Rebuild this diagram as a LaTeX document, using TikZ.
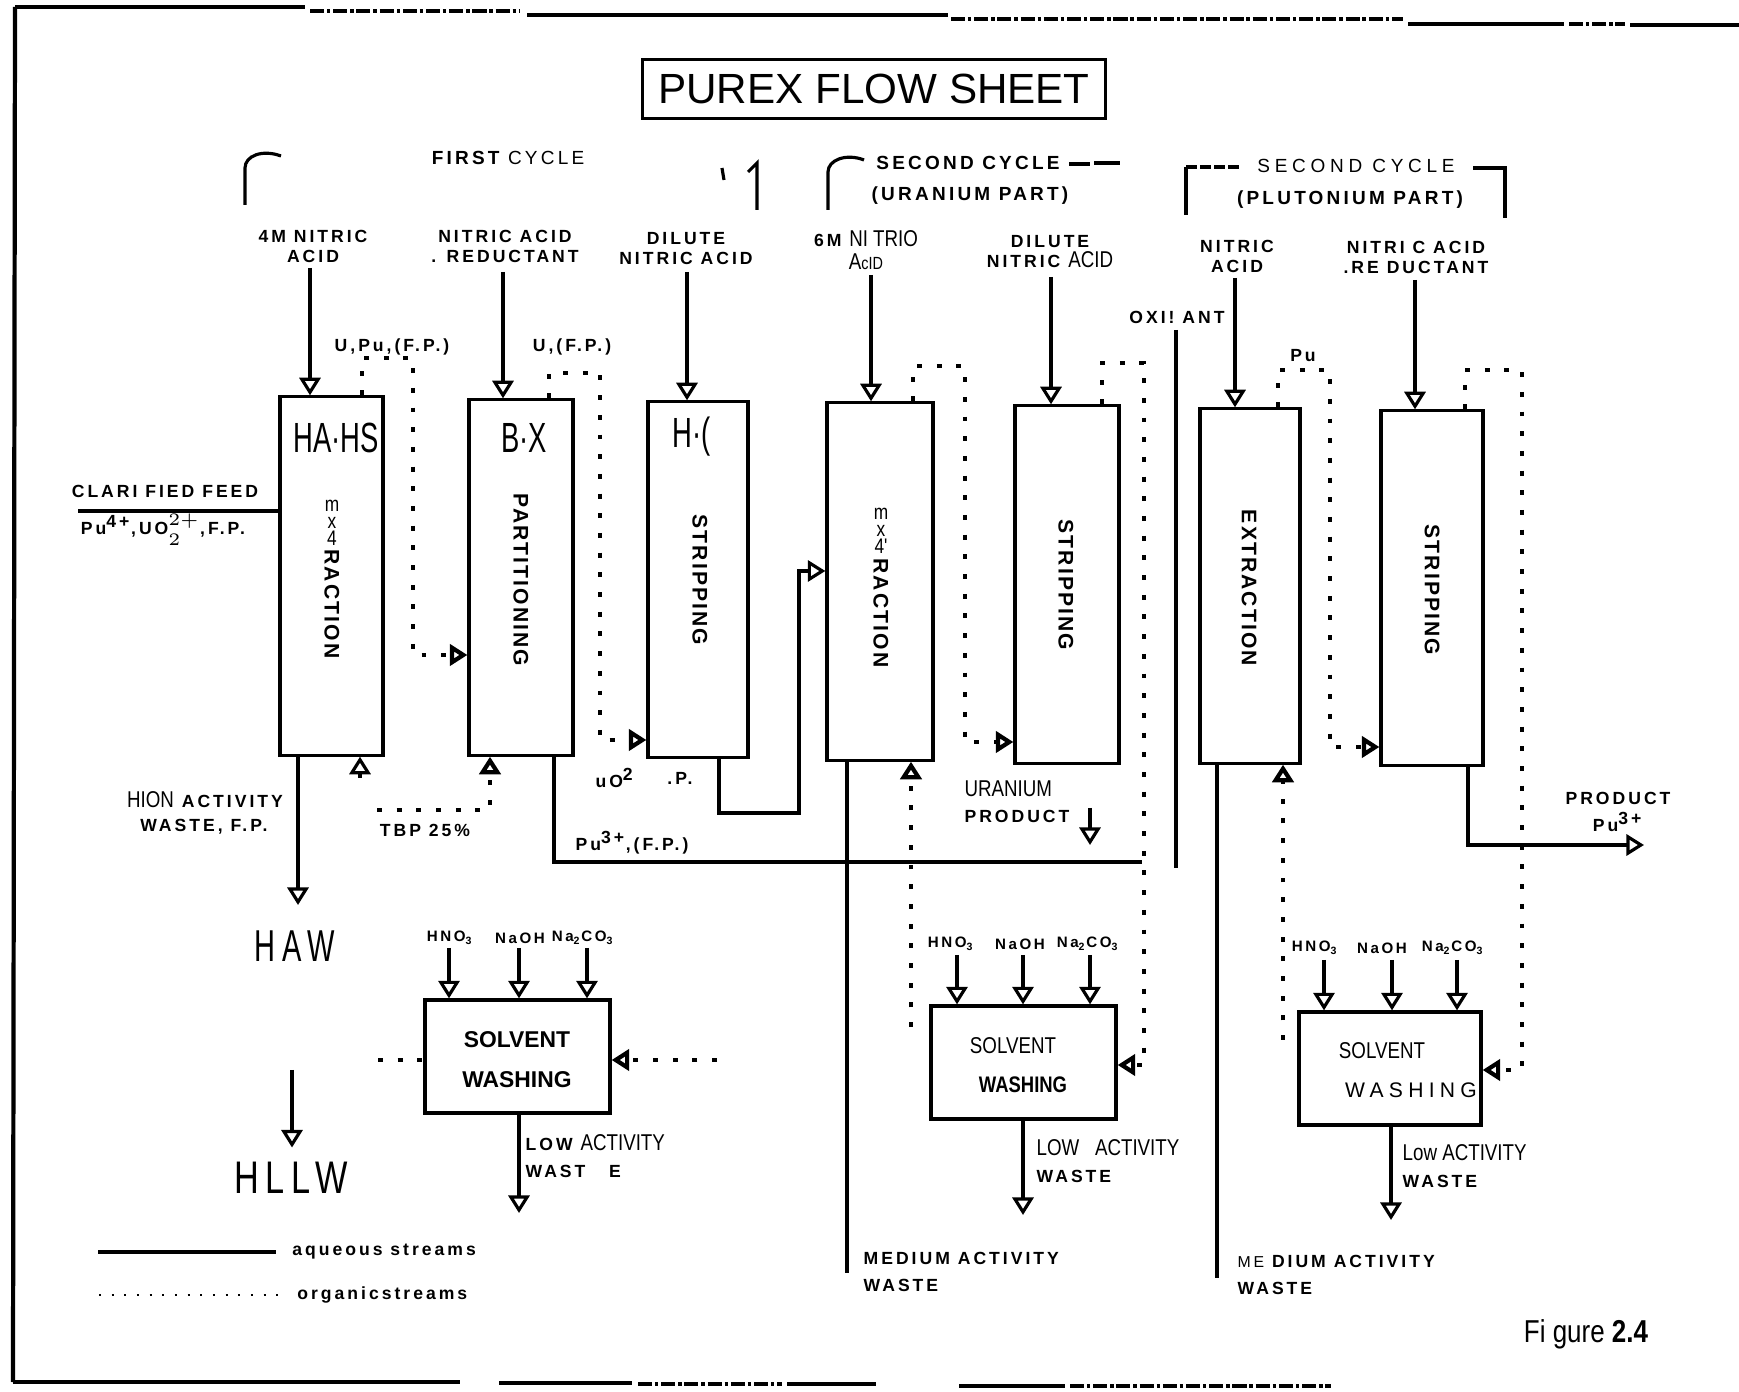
\documentclass[tikz,border=0pt]{standalone}
\usepackage{fontspec}
\setmainfont{Liberation Sans}
\newfontfamily\lblfont[LetterSpace=17]{Liberation Sans}
\newfontfamily\vfont[LetterSpace=10]{Liberation Sans}
\newfontfamily\widefont[LetterSpace=25]{Liberation Sans}
\newfontfamily\condfont[FakeStretch=0.82]{Liberation Sans}
\newfontfamily\tagfont[FakeStretch=0.65]{Liberation Sans}
\newfontfamily\hawfont[FakeStretch=0.65,LetterSpace=15]{Liberation Sans}
\newfontfamily\hllwfont[FakeStretch=0.75,LetterSpace=15]{Liberation Sans}
\usetikzlibrary{arrows.meta, calc}

\begin{document}
\begin{tikzpicture}[x=0.01cm, y=-0.01cm, >={Triangle[open,length=5pt,width=6pt]},
      aq/.style={line width=0.9pt},
      org/.style={line width=1.2pt, dash pattern=on 1.4pt off 4.2pt},
      rim/.style={line width=1.2pt},
      scan/.style={line width=0.9pt, dash pattern=on 4pt off 0.8pt on 1pt off 0.8pt},
      col/.style={draw, line width=0.9pt, inner sep=0pt},
      wash/.style={draw, line width=0.9pt, inner sep=0pt, minimum height=1.13cm},
      lbl/.style={font=\lblfont\bfseries\fontsize{5}{5.7}\selectfont, inner sep=0pt, align=center},
      hdr/.style={font=\lblfont\bfseries\fontsize{5.4}{6}\selectfont, inner sep=0pt},
      vlbl/.style={font=\vfont\bfseries\fontsize{6}{7}\selectfont, inner sep=0pt, rotate=-90},
      reg/.style={font=\condfont\fontsize{6.5}{7.5}\selectfont, inner sep=0pt},
      tag/.style={font=\tagfont\fontsize{12}{14}\selectfont, inner sep=0pt},
      mx/.style={font=\condfont\fontsize{6}{4.9}\selectfont, inner sep=0pt, align=center},
      chem/.style={font=\lblfont\bfseries\fontsize{4.3}{5}\selectfont, inner sep=0pt},
      waste/.style={font=\lblfont\bfseries\fontsize{5}{7.8}\selectfont, inner sep=0pt, align=left, anchor=west}]

    \useasboundingbox (0,0) rectangle (1739,1392);

    % scanned page rim
    \draw[rim] (15,7) -- (305,7);
    \draw[scan] (310,11) -- (520,11);
    \draw[rim] (527,15) -- (948,15);
    \draw[scan] (951,19) -- (1403,19);
    \draw[rim] (1408,24) -- (1564,24);
    \draw[scan] (1569,24) -- (1625,24);
    \draw[rim] (1630,25) -- (1739,25);
    \draw[rim] (15,7) -- (13,1382);
    \draw[rim] (13,1382) -- (460,1382);
    \draw[rim] (499,1383) -- (632,1383);
    \draw[scan] (638,1384) -- (782,1384);
    \draw[rim] (787,1384) -- (876,1384);
    \draw[rim] (959,1386) -- (1065,1386);
    \draw[scan] (1070,1386) -- (1331,1386);

    % title
    \node[draw, line width=0.8pt, minimum width=4.63cm, minimum height=0.59cm, inner sep=0pt,
          font=\fontsize{12}{14}\selectfont] (title) at (874,89) {PUREX FLOW SHEET};

    % cycle headings
    \node[hdr] (cyc1) at (508,158) {FIRST {\mdseries CYCLE}};
    \draw[aq] (245,205) -- (245,168) .. controls (245,156) and (262,149) .. (281,156);
    \draw[aq] (722,168) -- (724,180);
    \draw[aq] (757,210) -- (757,163) -- (748,172);
    \node[hdr] (cyc2) at (968,163) {SECOND CYCLE};
    \node[hdr] (cyc2b) at (970,196) {(URANIUM PART)};
    \draw[aq] (828,210) -- (828,172) .. controls (828,160) and (846,153) .. (864,160);
    \draw[aq] (1069,164) -- (1090,164);
    \draw[aq] (1094,163) -- (1120,163);
    \node[font=\widefont\fontsize{5.4}{6}\selectfont, inner sep=0pt] (cyc3) at (1356,166) {SECOND CYCLE};
    \node[hdr] (cyc3b) at (1350,200) {(PLUTONIUM PART)};
    \draw[aq] (1186,215) -- (1186,167);
    \draw[aq, dash pattern=on 3pt off 1pt] (1186,167) -- (1242,167);
    \draw[aq] (1473,168) -- (1505,168) -- (1505,218);

    % columns
    \node[col, minimum width=1.03cm, minimum height=3.58cm] (c1) at (331.5,576) {};
    \node[col, minimum width=1.04cm, minimum height=3.55cm] (c2) at (521,577.5) {};
    \node[col, minimum width=1.00cm, minimum height=3.55cm] (c3) at (698,579.5) {};
    \node[col, minimum width=1.06cm, minimum height=3.57cm] (c4) at (880,581.5) {};
    \node[col, minimum width=1.04cm, minimum height=3.57cm] (c5) at (1067,584.5) {};
    \node[col, minimum width=1.00cm, minimum height=3.54cm] (c6) at (1250,586) {};
    \node[col, minimum width=1.02cm, minimum height=3.54cm] (c7) at (1432,588) {};

    \node[tag] (c1t) at (336,438) {HA·HS};
    \node[tag] (c2t) at (524,438) {B·X};
    \node[tag] (c3t) at (692,437) {H·(};
    \node[mx] (c1m) at (332,523) {m\\x\\4};
    \node[vlbl] (c1v) at (332,604) {RACTION};
    \node[vlbl] (c2v) at (521,580) {PARTITIONING};
    \node[vlbl] (c3v) at (700,580) {STRIPPING};
    \node[mx] (c4m) at (881,531) {m\\x\\4'};
    \node[vlbl] (c4v) at (881,613) {RACTION};
    \node[vlbl] (c5v) at (1066,585) {STRIPPING};
    \node[vlbl] (c6v) at (1249,588) {EXTRACTION};
    \node[vlbl] (c7v) at (1432,590) {STRIPPING};

    % solvent washing boxes
    \node[wash, minimum width=1.85cm] (w1) at (517.5,1056.5) {};
    \node[wash, minimum width=1.85cm] (w2) at (1023.5,1062.5) {};
    \node[wash, minimum width=1.82cm] (w3) at (1390,1068.5) {};
    \node[font=\bfseries\fontsize{6.5}{7}\selectfont, inner sep=0pt] (w1a) at (517,1040) {SOLVENT};
    \node[font=\bfseries\fontsize{6.5}{7}\selectfont, inner sep=0pt] (w1b) at (517,1080) {WASHING};
    \node[reg] (w2a) at (1013,1046) {SOLVENT};
    \node[font=\condfont\bfseries\fontsize{6.4}{7}\selectfont, inner sep=0pt] (w2b) at (1023,1085) {WASHING};
    \node[reg] (w3a) at (1382,1051) {SOLVENT};
    \node[font=\widefont\fontsize{6}{7}\selectfont, inner sep=0pt] (w3b) at (1411,1090) {WASHING};

    % aqueous feeds at the top
    \node[lbl] (f1) at (313,246) {4M NITRIC\\ACID};
    \node[lbl] (f2) at (505,246) {NITRIC ACID\\. REDUCTANT};
    \node[lbl] (f3) at (686,249) {DILUTE\\NITRIC ACID};
    \node[lbl] (f4) at (866,250) {6M {\condfont\mdseries\fontsize{6.5}{7}\selectfont NI\ TRIO}\\[1pt]
          {\condfont\mdseries\fontsize{6.5}{7}\selectfont A}{\condfont\mdseries\fontsize{5}{6}\selectfont cID}};
    \node[lbl] (f5) at (1050,252) {DILUTE\\NITRIC {\condfont\mdseries\fontsize{6.5}{7}\selectfont ACID}};
    \node[lbl] (f6) at (1237,256) {NITRIC\\ACID};
    \node[lbl] (f7) at (1416,257) {NITRI C ACID\\.RE DUCTANT};
    \coordinate (i1) at (310,268);
    \coordinate (i2) at (503,272);
    \coordinate (i3) at (687,272);
    \coordinate (i4) at (871,275);
    \coordinate (i5) at (1051,277);
    \coordinate (i6) at (1235,278);
    \coordinate (i7) at (1415,280);
    \draw[aq,->] (i1) -- (i1 |- c1.north);
    \draw[aq,->] (i2) -- (i2 |- c2.north);
    \draw[aq,->] (i3) -- (i3 |- c3.north);
    \draw[aq,->] (i4) -- (i4 |- c4.north);
    \draw[aq,->] (i5) -- (i5 |- c5.north);
    \draw[aq,->] (i6) -- (i6 |- c6.north);
    \draw[aq,->] (i7) -- (i7 |- c7.north);

    % feed and high activity waste
    \node[lbl] (feed) at (165,491) {CLARI FIED FEED};
    \node[lbl] (feedb) at (163,530) {Pu\textsuperscript{4+},UO$^{2+}_{2}$,F.P.};
    \coordinate (fd) at (78,511);
    \draw[aq] (fd) -- (fd -| c1.west);
    \coordinate (r1) at (360,778);
    \draw[aq,->] (r1) -- (r1 |- c1.south);
    \node[lbl] (hion) at (205,800) {{\condfont\mdseries\fontsize{6.5}{7}\selectfont HION} ACTIVITY};
    \node[lbl] (hionb) at (204,827) {WASTE, F.P.};
    \coordinate (hw) at (298,905);
    \draw[aq,->] (hw |- c1.south) -- (hw);
    \node[font=\hawfont\fontsize{12.7}{14}\selectfont, inner sep=0pt] (haw) at (295,946) {HAW};
    \node[font=\hllwfont\fontsize{13}{14}\selectfont, inner sep=0pt] (hllw) at (291,1178) {HLLW};
    \coordinate (hl) at (292,1070);
    \draw[aq,->, shorten >=4pt] (hl) -- (hl |- hllw.north);

    % first cycle organic and aqueous streams
    \node[lbl] (s1) at (392,347) {U,Pu,(F.P.)};
    \coordinate (o1a) at (362,358);
    \coordinate (o1b) at (413,655);
    \draw[org,->] (o1a |- c1.north) -- (o1a) -- (o1a -| o1b) -- (o1b) -- (o1b -| c2.west);
    \node[lbl] (s2) at (572,347) {U,(F.P.)};
    \coordinate (o2a) at (549,373);
    \coordinate (o2b) at (600,740);
    \draw[org,->] (o2a |- c2.north) -- (o2a) -- (o2a -| o2b) -- (o2b) -- (o2b -| c3.west);
    \node[lbl] (tbpl) at (425,830) {TBP 25\%};
    \coordinate (tbp) at (377,810);
    \coordinate (tbpb) at (490,810);
    \draw[org,->] (tbp) -- (tbpb) -- (tbpb |- c2.south);
    \node[lbl] (uo) at (615,778) {uO\textsuperscript{2}};
    \node[lbl] (fp) at (680,778) {.P.};
    \coordinate (a3) at (719,813);
    \coordinate (a3b) at (799,571);
    \draw[aq,->] (a3 |- c3.south) -- (a3) -- (a3 -| a3b) -- (a3b) -- (a3b -| c4.west);
    \node[lbl] (pu3) at (632,843) {Pu\textsuperscript{3+},(F.P.)};
    \coordinate (p2) at (554,862);
    \coordinate (p2e) at (1142,862);
    \draw[aq] (p2 |- c2.south) -- (p2) -- (p2e);

    % second cycle, uranium part
    \coordinate (o4a) at (913,366);
    \coordinate (o4b) at (965,742);
    \draw[org,->] (o4a |- c4.north) -- (o4a) -- (o4a -| o4b) -- (o4b) -- (o4b -| c5.west);
    \coordinate (o4c) at (911,1027);
    \draw[org,->] (o4c) -- (o4c |- c4.south);
    \coordinate (m4) at (847,1273);
    \draw[aq] (m4 |- c4.south) -- (m4);
    \node[waste] (m4l) at (863,1272) {MEDIUM ACTIVITY\\WASTE};
    \node[reg, align=left] (up) at (1017,802) {URANIUM\\{\lblfont\bfseries\fontsize{5}{6}\selectfont PRODUCT}};
    \coordinate (upa) at (1090,808);
    \coordinate (upb) at (1090,845);
    \draw[aq,->] (upa) -- (upb);
    \coordinate (o5a) at (1102,363);
    \coordinate (o5b) at (1144,1065);
    \draw[org,->] (o5a |- c5.north) -- (o5a) -- (o5a -| o5b) -- (o5b) -- (o5b -| w2.east);
    \node[lbl] (ox) at (1177,317) {OXI\,!\ ANT};
    \coordinate (oxa) at (1176,330);
    \coordinate (oxb) at (1176,868);
    \draw[aq] (oxa) -- (oxb);

    % second cycle, plutonium part
    \node[lbl] (s6) at (1303,356) {Pu};
    \coordinate (o6a) at (1278,370);
    \coordinate (o6b) at (1330,747);
    \draw[org,->] (o6a |- c6.north) -- (o6a) -- (o6a -| o6b) -- (o6b) -- (o6b -| c7.west);
    \coordinate (o6c) at (1283,1040);
    \draw[org,->] (o6c) -- (o6c |- c6.south);
    \coordinate (m6) at (1217,1278);
    \draw[aq] (m6 |- c6.south) -- (m6);
    \node[waste] (m6l) at (1237,1275) {{\mdseries\fontsize{4.5}{5}\selectfont ME} DIUM ACTIVITY\\WASTE};
    \coordinate (o7a) at (1465,370);
    \coordinate (o7b) at (1522,1070);
    \draw[org,->] (o7a |- c7.north) -- (o7a) -- (o7a -| o7b) -- (o7b) -- (o7b -| w3.east);
    \coordinate (pp) at (1468,845);
    \coordinate (ppe) at (1644,845);
    \draw[aq,->] (pp |- c7.south) -- (pp) -- (ppe);
    \node[lbl] (prod) at (1618,812) {PRODUCT\\[2pt]Pu\textsuperscript{3+}};

    % washing feeds and wastes
    \foreach \n/\x/\y in {w1/449/948, w1/519/948, w1/587/948,
                          w2/957/955, w2/1023/955, w2/1090/955,
                          w3/1324/960, w3/1392/960, w3/1457/960} {
        \coordinate (wi) at (\x,\y);
        \draw[aq,->] (wi) -- (wi |- \n.north);
    }
    \node[chem] (w1c1) at (450,938) {HNO\textsubscript{3}};
    \node[chem] (w1c2) at (520,938) {NaOH};
    \node[chem] (w1c3) at (583,938) {Na\textsubscript{2}CO\textsubscript{3}};
    \node[chem] (w2c1) at (951,944) {HNO\textsubscript{3}};
    \node[chem] (w2c2) at (1020,944) {NaOH};
    \node[chem] (w2c3) at (1088,944) {Na\textsubscript{2}CO\textsubscript{3}};
    \node[chem] (w3c1) at (1315,948) {HNO\textsubscript{3}};
    \node[chem] (w3c2) at (1382,948) {NaOH};
    \node[chem] (w3c3) at (1453,948) {Na\textsubscript{2}CO\textsubscript{3}};

    \coordinate (w1l) at (378,1060);
    \draw[org] (w1l) -- (w1l -| w1.west);
    \coordinate (w1r) at (717,1060);
    \draw[org,->] (w1r) -- (w1r -| w1.east);

    \coordinate (w1o) at (519,1213);
    \draw[aq,->] (w1o |- w1.south) -- (w1o);
    \node[waste] (w1l1) at (525,1156) {LOW {\condfont\mdseries\fontsize{6.5}{7}\selectfont ACTIVITY}\\WAST\ \ \ E};
    \coordinate (w2o) at (1023,1215);
    \draw[aq,->] (w2o |- w2.south) -- (w2o);
    \node[waste] (w2l1) at (1036,1161) {{\condfont\mdseries\fontsize{6.5}{7}\selectfont LOW\ \ \ ACTIVITY}\\WASTE};
    \coordinate (w3o) at (1391,1220);
    \draw[aq,->] (w3o |- w3.south) -- (w3o);
    \node[waste] (w3l1) at (1402,1166) {{\condfont\mdseries\fontsize{6.5}{7}\selectfont Low ACTIVITY}\\WASTE};

    % legend
    \coordinate (lg1) at (98,1252);
    \coordinate (lg2) at (99,1295);
    \draw[line width=1.3pt] (lg1) -- ++(178,0) node[lbl, anchor=west, xshift=4pt] (lgt1) {aqueous streams};
    \draw[line width=0.5pt, dash pattern=on 0.6pt off 3pt] (lg2) -- ++(187,0) node[lbl, anchor=west, xshift=3pt] (lgt2) {organicstreams};

    \node[font=\condfont\fontsize{9}{10}\selectfont, inner sep=0pt] (fig) at (1586,1334) {Fi gure \textbf{2.4}};

\end{tikzpicture}
\end{document}
